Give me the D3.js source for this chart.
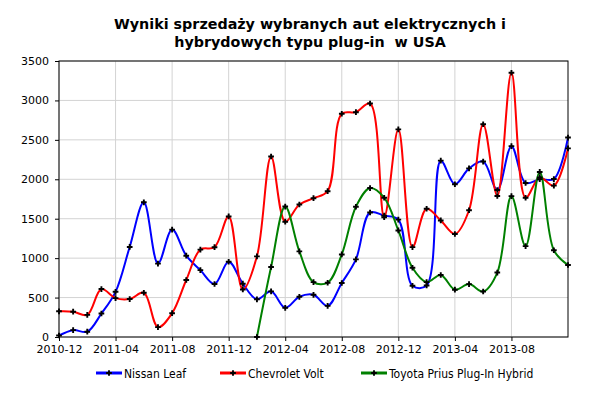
<!DOCTYPE html>
<html>
<head>
<meta charset="utf-8">
<script src="https://cdn.jsdelivr.net/npm/d3@7"></script>
<style>
  body { margin: 0; background: #fff; }
  svg { display: block; }
</style>
</head>
<body>
<svg id="chart" width="600" height="398"></svg>
<script>
// months from 2010-12 to 2013-12
const months = [
  "2010-12", "2011-01", "2011-02", "2011-03", "2011-04", "2011-05", "2011-06",
  "2011-07", "2011-08", "2011-09", "2011-10", "2011-11", "2011-12",
  "2012-01", "2012-02", "2012-03", "2012-04", "2012-05", "2012-06",
  "2012-07", "2012-08", "2012-09", "2012-10", "2012-11", "2012-12",
  "2013-01", "2013-02", "2013-03", "2013-04", "2013-05", "2013-06",
  "2013-07", "2013-08", "2013-09", "2013-10", "2013-11", "2013-12"
];
const xTicks = ["2010-12", "2011-04", "2011-08", "2011-12", "2012-04", "2012-08", "2012-12", "2013-04", "2013-08"];
const yTicks = [0, 500, 1000, 1500, 2000, 2500, 3000, 3500];

const leaf = [19, 87, 67, 298, 573, 1142, 1708, 931, 1362, 1031, 848, 672, 954,
  676, 478, 579, 370, 510, 535, 395, 685, 984, 1579, 1539, 1489,
  650, 653, 2236, 1937, 2138, 2225, 1864, 2420, 1953, 2002, 2003, 2529];
const volt = [326, 321, 281, 608, 493, 481, 561, 125, 302, 723, 1108, 1139, 1529,
  603, 1023, 2289, 1462, 1680, 1760, 1849, 2831, 2851, 2961, 1519, 2633,
  1140, 1626, 1478, 1306, 1607, 2698, 1788, 3351, 1766, 2022, 1920, 2392];
// Prius Plug-In starts in 2012-02
const priusStart = "2012-02";
const prius = [0, 888, 1654, 1086, 696, 688, 1047, 1652, 1889, 1766, 1351,
  878, 696, 786, 600, 671, 577, 817, 1786, 1152, 2093, 1100, 913];

const seriesNames = ["Nissan Leaf", "Chevrolet Volt", "Toyota Prius Plug-In Hybrid"];
const colors = ["#0000ff", "#ff0000", "#008000"];

const series = [
  { name: seriesNames[0], points: leaf.map((v, i) => ({ m: months[i], v })) },
  { name: seriesNames[1], points: volt.map((v, i) => ({ m: months[i], v })) },
  { name: seriesNames[2], points: prius.map((v, i) => ({ m: months[months.indexOf(priusStart) + i], v })) }
];

const margin = { top: 61, right: 32, bottom: 61, left: 59 };
const width = 600 - margin.left - margin.right;
const height = 398 - margin.top - margin.bottom;

const svg = d3.select("#chart");
const font = "'DejaVu Sans', Verdana, sans-serif";

// title
svg.append("text")
  .attr("x", 310).attr("y", 29)
  .attr("text-anchor", "middle")
  .style("font", "bold 14.3px " + font)
  .text("Wyniki sprzedaży wybranych aut elektrycznych i");
svg.append("text")
  .attr("x", 310).attr("y", 47)
  .attr("text-anchor", "middle")
  .style("font", "bold 14.3px " + font)
  .style("white-space", "pre")
  .text("hybrydowych typu plug-in  w USA");

const g = svg.append("g").attr("transform", `translate(${margin.left},${margin.top})`);

const x = d3.scalePoint().domain(months).range([0, width]);
const y = d3.scaleLinear().domain([0, 3500]).range([height, 0]);

// grid
g.append("g")
  .selectAll("line")
  .data(yTicks)
  .join("line")
  .attr("x1", 0).attr("x2", width)
  .attr("y1", d => y(d)).attr("y2", d => y(d))
  .attr("stroke", "#d3d3d3");
g.append("g")
  .selectAll("line")
  .data(xTicks)
  .join("line")
  .attr("x1", d => x(d)).attr("x2", d => x(d))
  .attr("y1", 0).attr("y2", height)
  .attr("stroke", "#d3d3d3");

// axes
const xAxis = g.append("g")
  .attr("transform", `translate(0,${height})`)
  .call(d3.axisBottom(x).tickValues(xTicks).tickSize(4).tickPadding(4));
const yAxis = g.append("g")
  .call(d3.axisLeft(y).tickValues(yTicks).tickFormat(d3.format("d")).tickSize(4).tickPadding(6));
[xAxis, yAxis].forEach(a => {
  a.select(".domain").remove();
  a.selectAll("line").attr("stroke", "#000");
  a.selectAll("text").style("font", "11px " + font).attr("fill", "#000");
});

// frame
g.append("rect")
  .attr("width", width).attr("height", height)
  .attr("fill", "none").attr("stroke", "#000");

const line = d3.line()
  .x(d => x(d.m))
  .y(d => y(d.v))
  .curve(d3.curveCatmullRom.alpha(0.5));

const marker = d3.symbol().type(d3.symbolCross).size(18);

series.forEach((s, i) => {
  g.append("path")
    .datum(s.points)
    .attr("fill", "none")
    .attr("stroke", colors[i])
    .attr("stroke-width", 2)
    .attr("d", line);
});
series.forEach(s => {
  g.append("g")
    .selectAll("path")
    .data(s.points)
    .join("path")
    .attr("transform", d => `translate(${x(d.m)},${y(d.v)})`)
    .attr("d", marker)
    .attr("fill", "#000");
});

// legend
const legendX = [96, 220, 361];
const legend = svg.append("g").attr("transform", "translate(0,373)");
seriesNames.forEach((name, i) => {
  const lg = legend.append("g").attr("transform", `translate(${legendX[i]},0)`);
  lg.append("line").attr("x1", 0).attr("x2", 26)
    .attr("stroke", colors[i]).attr("stroke-width", 3);
  lg.append("path").attr("transform", "translate(13,0)").attr("d", marker).attr("fill", "#000");
  lg.append("text").attr("x", 28).attr("y", 4.5)
    .style("font", "12px 'DejaVu Sans Condensed', sans-serif")
    .attr("fill", "#000")
    .text(name);
});
</script>
</body>
</html>
